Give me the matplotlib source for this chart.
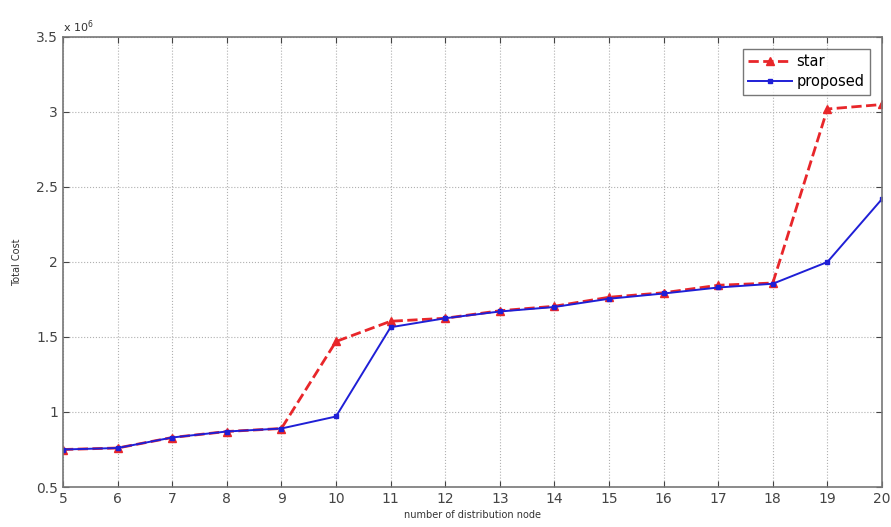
import numpy as np
import matplotlib.pyplot as plt
from matplotlib.ticker import FuncFormatter, MultipleLocator

# number of distribution nodes
nodes = [5, 6, 7, 8, 9, 10, 11, 12, 13, 14, 15, 16, 17, 18, 19, 20]

# total cost, in units of 1e6
star_cost = [0.75, 0.76, 0.83, 0.87, 0.89, 1.47, 1.605, 1.625, 1.675, 1.705, 1.765, 1.795, 1.845, 1.86, 3.02, 3.05]
proposed_cost = [0.75, 0.76, 0.83, 0.87, 0.89, 0.97, 1.565, 1.625, 1.67, 1.70, 1.755, 1.79, 1.83, 1.855, 2.0, 2.42]

fig = plt.figure(figsize=(8.91, 5.27), dpi=100)
ax = fig.add_axes([0.0707, 0.0759, 0.9192, 0.8539])

ax.plot(nodes, star_cost, color='#e8262a', linestyle='--', linewidth=2,
        marker='^', markersize=6, label='star')
ax.plot(nodes, proposed_cost, color='#1f1fd6', linestyle='-', linewidth=1.4,
        marker='s', markersize=3.5, label='proposed')

ax.set_xlim(5, 20)
ax.set_ylim(0.5, 3.5)
ax.xaxis.set_major_locator(MultipleLocator(1))
ax.yaxis.set_major_locator(MultipleLocator(0.5))
ax.yaxis.set_major_formatter(FuncFormatter(lambda v, p: f"{v:g}"))

ax.grid(True, color='#b0b0b0', linestyle=':', linewidth=0.8)
ax.tick_params(direction='in', top=True, right=True, labelsize=10,
               colors='#444444', length=4)
for s in ax.spines.values():
    s.set_color('#777777')
    s.set_linewidth(1.2)

ax.set_xlabel('number of distribution node', fontsize=7, color='#333333', labelpad=3)
ax.set_ylabel('Total Cost', fontsize=7, color='#333333', labelpad=10)

# MATLAB-style exponent label
ax.text(0.0, 1.005, r'x 10$^6$', transform=ax.transAxes, fontsize=8,
        color='#333333', ha='left', va='bottom')

leg = ax.legend(loc='upper right', fontsize=10.5, frameon=True, fancybox=False,
                edgecolor='#555555', handlelength=3, handletextpad=0.3,
                borderaxespad=0.8, labelspacing=0.3)
leg.get_frame().set_linewidth(1.0)

fig.savefig('out.png', dpi=100)
